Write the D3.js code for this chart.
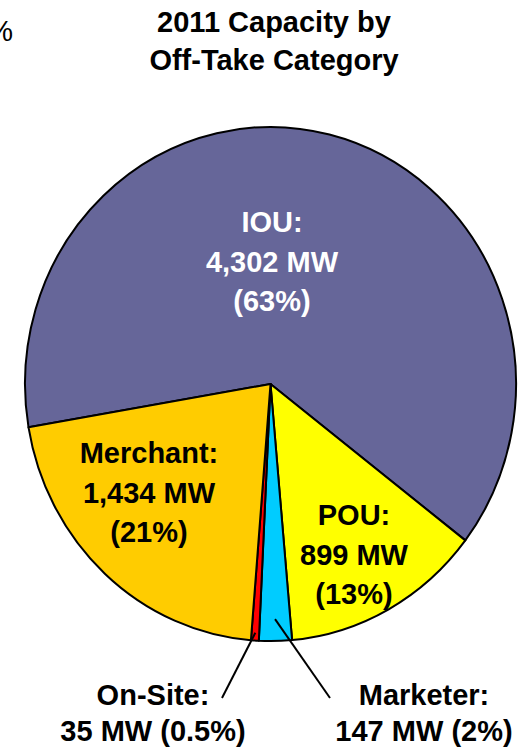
<!DOCTYPE html>
<html>
<head>
<meta charset="utf-8">
<script src="https://cdn.jsdelivr.net/npm/d3@7"></script>
<style>
  body { margin: 0; background: #fff; }
  svg text { font-family: "Liberation Sans", Arial, sans-serif; }
</style>
</head>
<body>
<svg id="container" width="525" height="753"></svg>
<script>
let width = 525,
    height = 753;

// chart data
let categories = ["IOU", "POU", "Marketer", "On-Site", "Merchant"]
let capacityMW = [4302, 899, 147, 35, 1434]
let pctLabels = ["63%", "13%", "2%", "0.5%", "21%"]
let colors = ["#666699", "#FFFF00", "#00CCFF", "#FF0000", "#FFCC00"]
let titleLines = ["2011 Capacity by", "Off-Take Category"]

let svg = d3.select("#container")

let cx = 270.5,
    cy = 384,
    r = 245.5,
    stretch = 257 / 245.5;

// title
svg.append("text")
    .attr("x", 13)
    .attr("y", 41)
    .attr("text-anchor", "end")
    .attr("font-size", "29px")
    .text("%")

svg.selectAll(".title")
    .data(titleLines)
    .enter()
    .append("text")
    .attr("class", "title")
    .attr("x", 274)
    .attr("y", (d, i) => 32 + i * 38)
    .attr("text-anchor", "middle")
    .attr("font-size", "29px")
    .attr("font-weight", "bold")
    .text(d => d)

let data = categories.map((c, i) => ({
    name: c,
    value: capacityMW[i],
    pct: pctLabels[i],
    color: colors[i]
}))

let pie = d3.pie()
    .value(d => d.value)
    .sort(null)
    .startAngle(260.3 * Math.PI / 180)
    .endAngle((260.3 + 360) * Math.PI / 180)

let arc = d3.arc()
    .innerRadius(0)
    .outerRadius(r)

let arcs = pie(data)

let g = svg.append("g")
    .attr("transform", "translate(" + cx + "," + cy + ") scale(1," + stretch + ")")

g.selectAll("path")
    .data(arcs)
    .enter()
    .append("path")
    .attr("d", arc)
    .attr("fill", d => d.data.color)
    .attr("stroke", "#000")
    .attr("stroke-width", 2)
    .attr("stroke-linejoin", "round")
    .attr("vector-effect", "non-scaling-stroke")

let fmt = d3.format(",")

// labels inside slices
let inside = {
    "IOU": { x: 272, y: 232, fill: "#fff" },
    "POU": { x: 354, y: 525, fill: "#000" },
    "Merchant": { x: 149, y: 463, fill: "#000" }
}

arcs.forEach(a => {
    let pos = inside[a.data.name]
    if (!pos) return
    let lines = [a.data.name + ":", fmt(a.data.value) + " MW", "(" + a.data.pct + ")"]
    svg.append("g")
        .selectAll("text")
        .data(lines)
        .enter()
        .append("text")
        .attr("x", pos.x)
        .attr("y", (d, i) => pos.y + i * 39.5)
        .attr("text-anchor", "middle")
        .attr("font-size", "29px")
        .attr("font-weight", "bold")
        .attr("fill", pos.fill)
        .text(d => d)
})

// outside labels with leader lines
let outside = {
    "On-Site": { x: 153, y: 705, lx: 222, ly: 698, k: 0.97 },
    "Marketer": { x: 424, y: 705, lx: 330, ly: 698, k: 0.915 }
}

arcs.forEach(a => {
    let pos = outside[a.data.name]
    if (!pos) return
    let mid = (a.startAngle + a.endAngle) / 2
    let sx = cx + Math.sin(mid) * r * pos.k,
        sy = cy - Math.cos(mid) * r * pos.k * stretch
    svg.append("line")
        .attr("x1", sx)
        .attr("y1", sy)
        .attr("x2", pos.lx)
        .attr("y2", pos.ly)
        .attr("stroke", "#000")
        .attr("stroke-width", 2)

    let lines = [a.data.name + ":", fmt(a.data.value) + " MW (" + a.data.pct + ")"]
    svg.append("g")
        .selectAll("text")
        .data(lines)
        .enter()
        .append("text")
        .attr("x", pos.x)
        .attr("y", (d, i) => pos.y + i * 35.5)
        .attr("text-anchor", "middle")
        .attr("font-size", "29px")
        .attr("font-weight", "bold")
        .text(d => d)
})
</script>
</body>
</html>
